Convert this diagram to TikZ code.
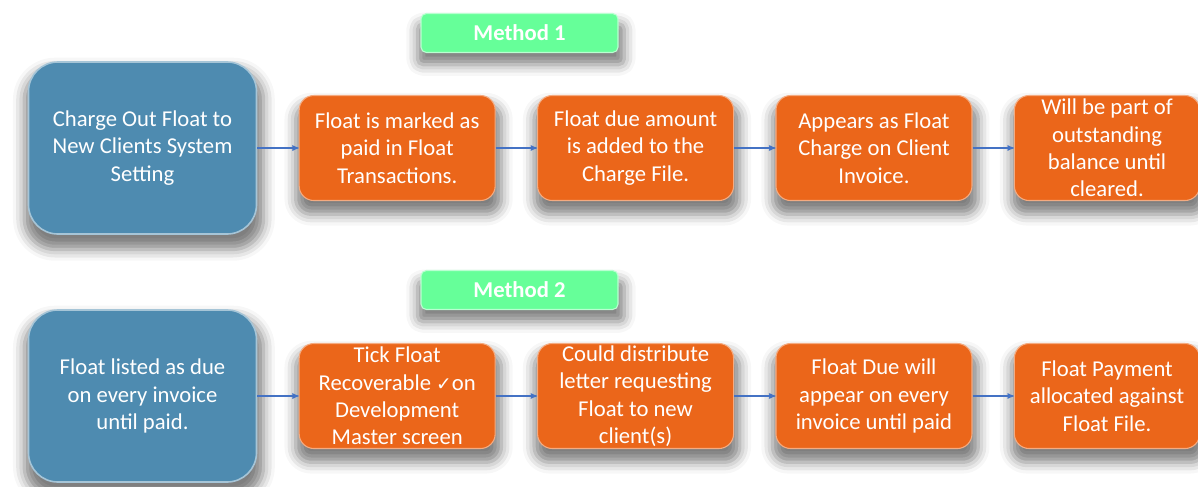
\documentclass[tikz,border=0pt]{standalone}
\usepackage{fontspec}
\setmainfont{Carlito}
\newfontfamily\symfont{DejaVu Sans}
\usetikzlibrary{arrows,positioning,shadows.blur}

\definecolor{startblue}{HTML}{4E8BB0}
\definecolor{taskorange}{HTML}{EB661A}
\definecolor{methodgreen}{HTML}{66FF99}
\definecolor{flowblue}{HTML}{4472C4}

\begin{document}
\begin{tikzpicture}[x=0.75pt,y=-0.75pt,->,>=stealth',node distance=31pt,
    font=\fontsize{17}{20.6}\selectfont,
    box/.style={rounded corners=11pt,text=white,align=center,inner sep=0pt,
      minimum width=147pt,minimum height=78.75pt,
      blur shadow={shadow xshift=1pt,shadow yshift=-8pt,shadow scale=1.05,
        shadow blur radius=8pt,shadow opacity=50}},
    start/.style={box,fill=startblue,draw=startblue!50!white,line width=1.2pt,
      rounded corners=22pt,minimum width=171pt,minimum height=129pt},
    task/.style={box,fill=taskorange,draw=taskorange!55!white,line width=0.8pt},
    method/.style={box,fill=methodgreen,draw=methodgreen!45!white,line width=0.8pt,
      rounded corners=4pt,minimum width=147.75pt,minimum height=29.25pt,
      font=\fontsize{17}{20}\selectfont\bfseries},
    flow/.style={draw=flowblue,line width=0.8pt}]

  \useasboundingbox (0,0) rectangle (1198,486);

  % method 1
  \node[method] (m1) at (519.5,33) {Method 1};

  \node[start] (a0) at (142.5,148) {Charge Out Float to\\New Clients System\\Setting};
  \node[task] (a1) [right=of a0] {Float is marked as\\paid in Float\\Transactions.};
  \node[task] (a2) [right=of a1] {Float due amount\\is added to the\\Charge File.};
  \node[task] (a3) [right=of a2] {Appears as Float\\Charge on Client\\Invoice.};
  \node[task,minimum width=139pt] (a4) [right=of a3] {Will be part of\\outstanding\\balance until\\cleared.};

  \path (a0) edge[flow] (a1)
  (a1) edge[flow] (a2)
  (a2) edge[flow] (a3)
  (a3) edge[flow] (a4);

  % method 2
  \node[method] (m2) at (519.5,290) {Method 2};

  \node[start] (b0) at (142.5,396) {Float listed as due\\on every invoice\\until paid.};
  \node[task] (b1) [right=of b0] {Tick Float\\Recoverable {\symfont\fontsize{14}{17}\selectfont ✓}on\\Development\\Master screen};
  \node[task] (b2) [right=of b1] {Could distribute\\letter requesting\\Float to new\\client(s)};
  \node[task] (b3) [right=of b2] {Float Due will\\appear on every\\invoice until paid};
  \node[task,minimum width=139pt] (b4) [right=of b3] {Float Payment\\allocated against\\Float File.};

  \path (b0) edge[flow] (b1)
  (b1) edge[flow] (b2)
  (b2) edge[flow] (b3)
  (b3) edge[flow] (b4);

\end{tikzpicture}
\end{document}
